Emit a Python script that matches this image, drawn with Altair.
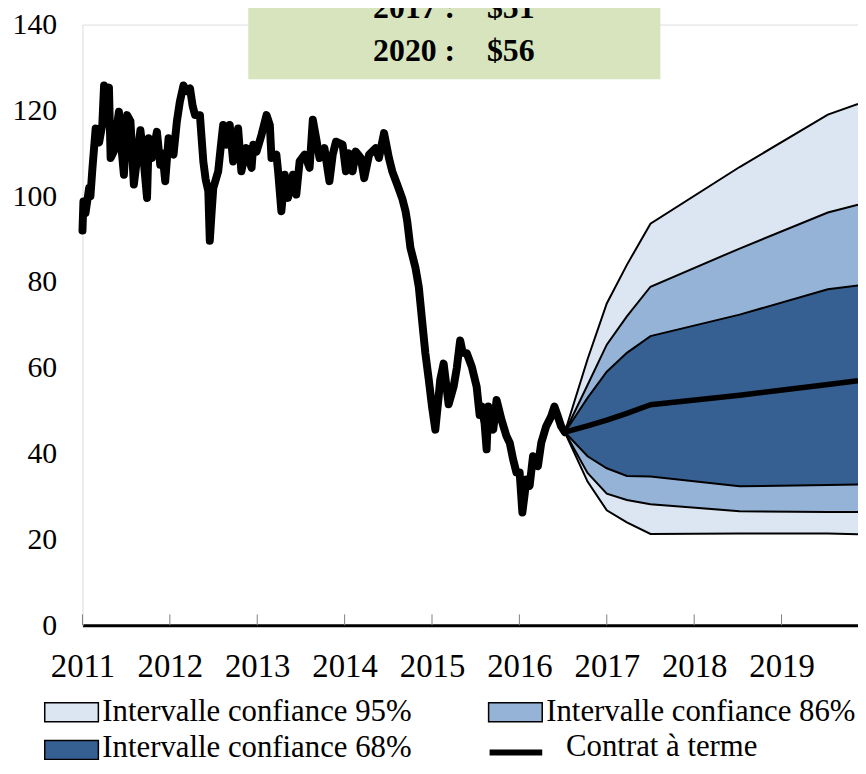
import altair as alt
import pandas as pd

# ---------------- data ----------------
hist_year = [2011.000, 2011.011, 2011.034, 2011.076, 2011.091, 2011.114, 2011.151, 2011.190, 2011.227, 2011.247,
             2011.273, 2011.303, 2011.322, 2011.360, 2011.386, 2011.417, 2011.443, 2011.474, 2011.511, 2011.549,
             2011.588, 2011.625, 2011.663, 2011.693, 2011.739, 2011.758, 2011.795, 2011.852, 2011.890, 2011.915,
             2011.947, 2011.985, 2012.011, 2012.042, 2012.080, 2012.114, 2012.156, 2012.193, 2012.231, 2012.261,
             2012.288, 2012.344, 2012.383, 2012.409, 2012.440, 2012.457, 2012.477, 2012.497, 2012.553, 2012.580,
             2012.610, 2012.648, 2012.685, 2012.724, 2012.750, 2012.781, 2012.818, 2012.875, 2012.898, 2012.935,
             2012.955, 2012.992, 2013.049, 2013.106, 2013.144, 2013.163, 2013.219, 2013.239, 2013.276, 2013.315,
             2013.352, 2013.409, 2013.447, 2013.485, 2013.542, 2013.599, 2013.636, 2013.674, 2013.713, 2013.769,
             2013.826, 2013.864, 2013.901, 2013.977, 2014.015, 2014.051, 2014.091, 2014.128, 2014.185, 2014.224,
             2014.280, 2014.356, 2014.393, 2014.451, 2014.507, 2014.545, 2014.602, 2014.659, 2014.697, 2014.716,
             2014.753, 2014.810, 2014.849, 2014.886, 2014.924, 2014.963, 2015.000, 2015.038, 2015.076, 2015.094,
             2015.133, 2015.190, 2015.247, 2015.284, 2015.322, 2015.352, 2015.398, 2015.455, 2015.511, 2015.545,
             2015.568, 2015.602, 2015.625, 2015.644, 2015.701, 2015.739, 2015.795, 2015.852, 2015.890, 2015.928,
             2015.966, 2016.003, 2016.034, 2016.057, 2016.080, 2016.117, 2016.156, 2016.212, 2016.250, 2016.307,
             2016.364, 2016.401, 2016.440, 2016.477, 2016.520]
hist_price = [92.0, 98.8, 96.0, 101.9, 100.0, 106.5, 115.8, 112.5, 116.7, 125.8,
              122.0, 125.3, 108.9, 110.5, 115.0, 119.7, 112.0, 105.0, 118.9, 117.5,
              102.7, 108.9, 115.4, 110.0, 99.6, 113.5, 108.9, 115.0, 107.3, 110.0,
              103.5, 113.5, 110.5, 109.7, 117.4, 122.0, 125.8, 124.5, 125.1, 121.0,
              118.9, 118.9, 108.1, 104.0, 101.2, 89.6, 96.0, 101.9, 105.8, 111.0,
              116.6, 112.0, 116.6, 108.1, 110.0, 115.8, 105.8, 111.2, 109.0, 106.6,
              112.0, 110.4, 114.3, 118.9, 116.6, 108.9, 109.7, 105.8, 96.5, 105.0,
              99.6, 105.0, 100.4, 108.1, 109.7, 106.6, 117.8, 113.5, 108.9, 111.2,
              103.5, 109.7, 112.7, 112.0, 105.8, 110.0, 105.8, 110.4, 108.9, 104.2,
              109.7, 111.2, 108.9, 114.7, 108.9, 105.8, 102.7, 99.5, 96.5, 94.2,
              88.0, 83.4, 78.8, 71.1, 63.4, 57.2, 51.0, 45.6, 53.3, 57.2,
              61.0, 51.5, 55.6, 60.0, 66.4, 63.5, 63.4, 60.3, 55.6, 49.0,
              51.0, 47.0, 41.0, 51.0, 45.6, 52.5, 47.9, 44.1, 42.5, 38.7,
              35.6, 35.6, 26.3, 30.0, 34.0, 32.5, 39.4, 37.1, 42.5, 46.4,
              48.7, 51.0, 48.7, 46.4, 45.0]

fan_year = [2016.52, 2016.78, 2017.00, 2017.23, 2017.50, 2018.52, 2019.53, 2019.875]
fan_l95 = [45.0, 33.5, 26.8, 24.0, 21.3, 21.4, 21.4, 21.2]
fan_l86 = [45.0, 35.5, 30.7, 29.2, 28.2, 26.6, 26.4, 26.4]
fan_l68 = [45.0, 39.4, 36.6, 34.8, 34.7, 32.4, 32.7, 32.8]
fan_fwd = [45.0, 46.5, 47.8, 49.4, 51.4, 53.6, 56.1, 57.0]
fan_u68 = [45.0, 53.0, 59.1, 63.5, 67.4, 72.4, 78.3, 79.2]
fan_u86 = [45.0, 56.0, 65.4, 72.0, 78.9, 87.8, 96.2, 98.0]
fan_u95 = [45.0, 62.0, 75.0, 84.0, 93.6, 106.8, 119.0, 121.5]

x_ticks = [2011, 2012, 2013, 2014, 2015, 2016, 2017, 2018, 2019]
y_ticks = [0, 20, 40, 60, 80, 100, 120, 140]
box_lines = ["2017 :\u00a0\u00a0\u00a0\u00a0$51", "2020 :\u00a0\u00a0\u00a0\u00a0$56"]
legend_labels = ["Intervalle confiance 95%", "Intervalle confiance 86%",
                 "Intervalle confiance 68%", "Contrat \u00e0 terme"]

# ---------------- frames ----------------
hist = pd.DataFrame({"year": hist_year, "price": hist_price})
fan = pd.DataFrame({"year": fan_year, "l95": fan_l95, "l86": fan_l86, "l68": fan_l68,
                    "fwd": fan_fwd, "u68": fan_u68, "u86": fan_u86, "u95": fan_u95})
ticks_df = pd.DataFrame({"year": x_ticks})
one = pd.DataFrame({"k": [0]})

FONT = "Liberation Serif"
W, H = 781, 605
XMAX = 2019.875

xs = alt.Scale(domain=[2011, XMAX], nice=False, zero=False)
ys = alt.Scale(domain=[0, 140], nice=False)

x_axis = alt.Axis(values=x_ticks, format="d", ticks=False, grid=False,
                  domainColor="black", domainWidth=3, labelFont=FONT, labelFontSize=33,
                  labelColor="black", labelPadding=26, title=None, labelFlush=False)
y_axis = alt.Axis(values=y_ticks, ticks=False, grid=False, domainColor="#ececec",
                  domainWidth=1, labelFont=FONT, labelFontSize=30, labelColor="black",
                  labelPadding=26, title=None)

X = alt.X("year:Q", scale=xs, axis=x_axis)
base = alt.Chart(fan)

band95 = base.mark_area(color="#DCE6F2", opacity=1).encode(
    x=X, y=alt.Y("u95:Q", scale=ys, axis=y_axis), y2="l95:Q")
band86 = base.mark_area(color="#95B3D7", opacity=1).encode(
    x=alt.X("year:Q", scale=xs), y=alt.Y("u86:Q", scale=ys), y2="l86:Q")
band68 = base.mark_area(color="#376092", opacity=1).encode(
    x=alt.X("year:Q", scale=xs), y=alt.Y("u68:Q", scale=ys), y2="l68:Q")

bounds = base.transform_fold(
    ["l95", "l86", "l68", "u68", "u86", "u95"], as_=["bound", "val"]
).mark_line(color="black", strokeWidth=2, strokeJoin="miter").encode(
    x=alt.X("year:Q", scale=xs), y=alt.Y("val:Q", scale=ys), detail="bound:N")

fwd = base.mark_line(color="black", strokeWidth=5.5, strokeJoin="round").encode(
    x=alt.X("year:Q", scale=xs), y=alt.Y("fwd:Q", scale=ys))

hist_line = alt.Chart(hist).mark_line(color="black", strokeWidth=8, strokeJoin="round",
                                       strokeCap="round").encode(
    x=alt.X("year:Q", scale=xs), y=alt.Y("price:Q", scale=ys))

tick_marks = alt.Chart(ticks_df).mark_rule(color="#808080", strokeWidth=1).encode(
    x=alt.X("year:Q", scale=xs), y=alt.value(H), y2=alt.value(H - 11))

# text box (pixel positions relative to plot origin)
box = alt.Chart(one).mark_rect(color="#D7E4BD").encode(
    x=alt.value(167), x2=alt.value(582), y=alt.value(-40), y2=alt.value(55))
box_t1 = alt.Chart(one).mark_text(font=FONT, fontSize=32, fontWeight="bold", color="black",
                                  align="center", baseline="alphabetic").encode(
    x=alt.value(374), y=alt.value(-7), text=alt.value(box_lines[0]))
box_t2 = alt.Chart(one).mark_text(font=FONT, fontSize=32, fontWeight="bold", color="black",
                                  align="center", baseline="alphabetic").encode(
    x=alt.value(374), y=alt.value(36.5), text=alt.value(box_lines[1]))


def leg_rect(x0, y0, color):
    return alt.Chart(one).mark_rect(color=color, stroke="black", strokeWidth=1.5).encode(
        x=alt.value(x0), x2=alt.value(x0 + 54), y=alt.value(y0), y2=alt.value(y0 + 19))


def leg_text(x0, yc, label):
    return alt.Chart(one).mark_text(font=FONT, fontSize=31, color="black", align="left",
                                    baseline="middle").encode(
        x=alt.value(x0), y=alt.value(yc), text=alt.value(label))


leg = [
    leg_rect(-38, 683, "#DCE6F2"), leg_text(20, 692, legend_labels[0]),
    leg_rect(409, 683, "#95B3D7"), leg_text(467, 692, legend_labels[1]),
    leg_rect(-38, 721, "#376092"), leg_text(20, 729, legend_labels[2]),
    alt.Chart(one).mark_rule(color="black", strokeWidth=6).encode(
        x=alt.value(410), x2=alt.value(463), y=alt.value(733)),
    leg_text(487, 728, legend_labels[3]),
]

chart = alt.layer(
    band95, band86, band68, bounds, fwd, hist_line, tick_marks, box, box_t1, box_t2, *leg
).properties(
    width=W, height=H,
    autosize=alt.AutoSizeParams(type="none"),
    padding={"left": 75, "top": 14, "right": 0, "bottom": 139},
).configure_view(stroke=None).configure(background="white")

chart.save("out.html", embed_options={"renderer": "svg", "actions": False})
